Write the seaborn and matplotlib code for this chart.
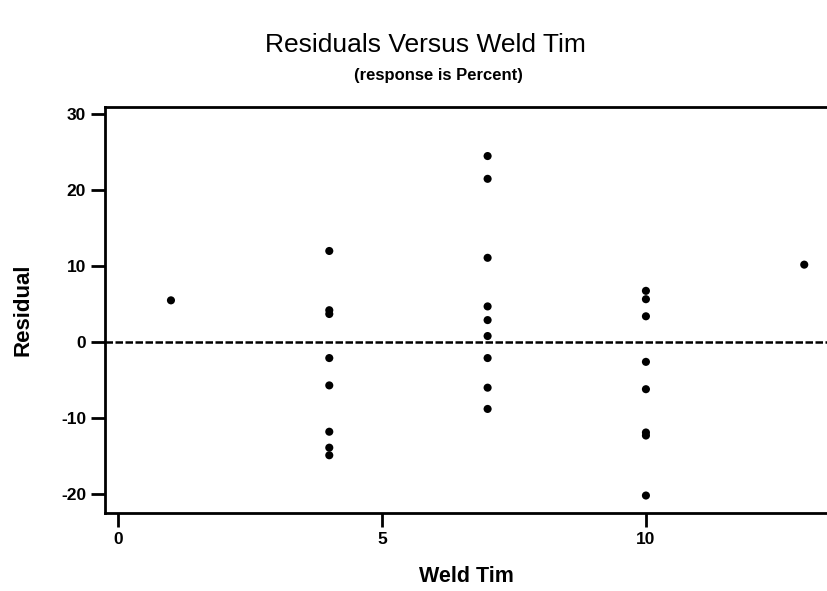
import matplotlib
matplotlib.use("Agg")
import matplotlib.pyplot as plt
import seaborn as sns
import pandas as pd

weld_time = [1,
             4, 4, 4, 4, 4, 4, 4, 4,
             7, 7, 7, 7, 7, 7, 7, 7, 7,
             10, 10, 10, 10, 10, 10, 10, 10,
             13]
residual = [5.5,
            12.0, 4.2, 3.7, -2.1, -5.7, -11.8, -13.9, -14.9,
            24.5, 21.5, 11.1, 4.7, 2.9, 0.8, -2.1, -6.0, -8.8,
            6.75, 5.65, 3.4, -2.6, -6.2, -11.9, -12.3, -20.2,
            10.2]
x_ticks = [0, 5, 10]
y_ticks = [-20, -10, 0, 10, 20, 30]

df = pd.DataFrame({"Weld Tim": weld_time, "Residual": residual})

sns.set_theme(style="white")
plt.rcParams['font.family'] = ['Liberation Sans', 'DejaVu Sans']
plt.rcParams['axes.unicode_minus'] = False

fig = plt.figure(figsize=(8.28, 5.91), dpi=100)
ax = fig.add_axes([0.1268, 0.132, 0.8732, 0.6875])

ax.axhline(0, color="black", lw=1.8, ls=(0, (3, 1)), zorder=1)
sns.scatterplot(data=df, x="Weld Tim", y="Residual", ax=ax, color="black",
                s=34, edgecolor="none", zorder=3)

ax.set_xlim(-0.25, 13.45)
ax.set_ylim(-22.5, 31)
ax.set_xticks(x_ticks)
ax.set_yticks(y_ticks)

for side in ["left", "bottom", "top"]:
    ax.spines[side].set_color("black")
    ax.spines[side].set_linewidth(2)
ax.spines["right"].set_visible(False)

ax.tick_params(axis="both", which="major", direction="out", length=10, width=2,
               color="black", labelsize=12.5, labelcolor="black", bottom=True, left=True)
for lbl in ax.get_xticklabels() + ax.get_yticklabels():
    lbl.set_fontweight("bold")

ax.set_xlabel("Weld Tim", fontsize=15.5, color="black", fontweight="bold", labelpad=14)
ax.set_ylabel("Residual", fontsize=16, color="black", fontweight="bold", labelpad=20)

fig.text(0.514, 0.924, "Residuals Versus Weld Tim", ha="center", va="center",
         fontsize=19, color="black")
fig.text(0.53, 0.873, "(response is Percent)", ha="center", va="center",
         fontsize=12, fontweight="bold", color="black")

fig.savefig("out.png", dpi=100)
